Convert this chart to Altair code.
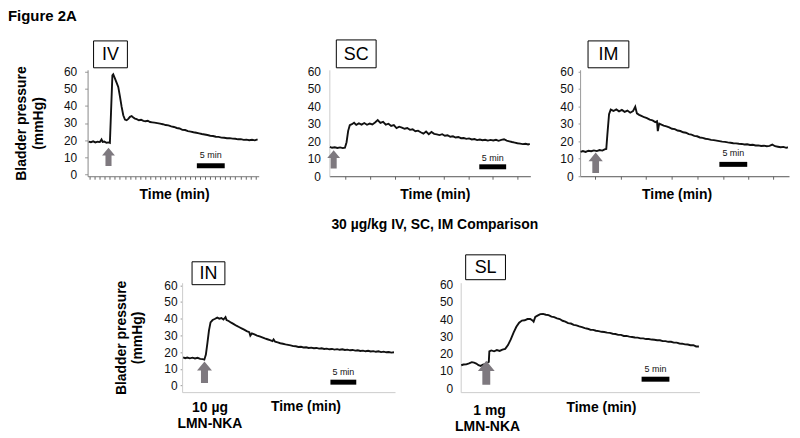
import altair as alt
import pandas as pd

FONT = "Liberation Sans"

# ---------------- data ----------------
# IV
iv_t = [0.2, 0.6, 1.0, 1.4, 1.8, 2.2, 2.5, 2.7, 3.0, 3.4, 3.8, 4.0, 4.2, 4.45, 4.6, 4.9, 5.2, 5.5, 5.8, 6.1,
        6.4, 6.7, 7.0, 7.3, 7.6, 7.9, 8.2, 8.5, 8.8, 9.2, 9.6, 10.0, 10.4, 10.8, 11.2, 11.6, 12.0, 12.5, 13.0,
        13.5, 14.0, 14.5, 15.0, 15.5, 16.0, 16.5, 17.0, 17.5, 18.0, 18.5, 19.0, 19.5, 20.0, 20.5, 21.0, 21.5,
        22.0, 22.5, 23.0, 23.5, 24.0, 24.5, 25.0, 25.5, 26.0, 26.5, 27.0, 27.5, 28.0, 28.5, 29.0, 29.5, 30.0, 30.5]
iv_p = [19.2, 18.8, 19.3, 18.7, 19.1, 18.9, 20.4, 19.0, 19.2, 18.5, 18.7, 18.4, 36.0, 57.8, 58.4, 56.0, 53.5, 51.0,
        45.5, 39.5, 34.5, 32.0, 31.6, 32.4, 33.6, 34.0, 33.2, 32.6, 32.2, 31.6, 31.9, 31.2, 31.0, 31.3, 30.6, 30.4,
        30.2, 29.9, 29.6, 29.3, 28.8, 28.6, 28.0, 27.7, 27.1, 26.8, 26.0, 25.9, 25.3, 25.0, 24.6, 24.3, 24.0, 23.6,
        23.3, 23.0, 22.6, 22.4, 22.0, 21.9, 21.5, 21.4, 21.1, 21.2, 20.9, 20.8, 20.5, 20.6, 20.2, 20.3, 20.0, 20.2,
        19.9, 20.5]

# SC
sc_t = [0.1, 0.5, 1.0, 1.5, 2.0, 2.5, 2.9, 3.2, 3.5, 3.8, 4.2, 4.6, 5.0, 5.5, 6.0, 6.5, 7.0, 7.5, 8.0, 8.5, 9.0,
        9.5, 10.0, 10.5, 11.0, 11.5, 12.0, 12.5, 13.0, 13.5, 14.0, 14.5, 15.0, 15.5, 16.0, 16.5, 17.0, 17.5, 18.0,
        18.5, 19.0, 19.5, 20.0, 20.5, 21.0, 21.5, 22.0, 22.5, 23.0, 23.5, 24.0, 24.5, 25.0, 25.5, 26.0, 26.5, 27.0,
        27.5, 28.0, 28.5, 29.0, 29.5, 30.0, 30.5, 31.0, 31.5, 32.0, 32.5, 33.0, 33.5, 34.0, 34.5, 35.0, 35.5, 36.0,
        36.5, 37.0, 37.3]
sc_p = [16.8, 16.3, 16.6, 16.2, 16.5, 16.1, 16.3, 19.5, 26.0, 29.2, 29.8, 30.6, 29.4, 30.3, 29.6, 30.5, 29.5, 30.2,
        29.7, 30.8, 32.2, 30.6, 31.2, 29.6, 30.1, 28.8, 29.3, 27.6, 28.4, 27.9, 27.2, 27.6, 26.6, 26.9, 25.8, 26.1,
        25.2, 24.4, 25.6, 24.1, 25.4, 24.3, 24.0, 23.6, 24.1, 23.2, 23.5, 22.6, 22.9, 22.2, 22.5, 21.8, 21.9, 21.4,
        21.7, 21.1, 21.3, 20.7, 21.0, 20.6, 20.9, 20.4, 20.8, 20.5, 20.9, 20.3, 20.8, 21.2, 20.4, 20.0, 19.6, 19.3,
        18.9, 18.7, 18.4, 18.6, 18.2, 18.5]

# IM
im_t = [0.1, 0.5, 1.0, 1.5, 2.0, 2.5, 3.0, 3.5, 4.0, 4.4, 4.7, 4.9, 5.2, 5.5, 6.0, 6.5, 7.0, 7.5, 8.0, 8.5, 9.0,
        9.5, 9.9, 10.2, 10.6, 11.0, 11.5, 12.0, 12.5, 13.0, 13.5, 13.8, 13.95, 14.2, 14.6, 15.0, 15.5, 16.0, 16.5,
        17.0, 17.5, 18.0, 18.5, 19.0, 19.5, 20.0, 20.5, 21.0, 21.5, 22.0, 22.5, 23.0, 23.5, 24.0, 24.5, 25.0, 25.5,
        26.0, 26.5, 27.0, 27.5, 28.0, 28.5, 29.0, 29.5, 30.0, 30.5, 31.0, 31.5, 32.0, 32.5, 33.0, 33.5, 34.0, 34.5,
        35.0, 35.5, 36.0, 36.5, 37.0, 37.3]
im_p = [14.0, 14.4, 13.9, 14.6, 14.3, 14.8, 14.4, 15.0, 14.7, 15.4, 15.6, 24.0, 35.5, 38.2, 37.4, 38.3, 37.2, 38.0,
        36.9, 37.6, 36.4, 37.3, 39.8, 36.0, 35.2, 34.6, 33.8, 33.3, 32.4, 32.0, 31.0, 31.5, 25.8, 30.2, 29.6, 29.0,
        28.6, 28.0, 27.2, 27.0, 26.2, 25.9, 25.2, 24.9, 24.1, 23.8, 23.1, 22.9, 22.2, 22.0, 21.5, 21.3, 20.8, 20.7,
        20.4, 20.1, 19.8, 19.7, 19.4, 19.2, 18.9, 18.8, 18.6, 18.5, 18.2, 18.3, 17.9, 18.0, 17.6, 17.7, 17.3, 17.5,
        17.2, 17.4, 18.1, 17.2, 16.9, 16.6, 16.8, 16.3, 16.6]

# IN
in_t = [0.2, 0.6, 1.0, 1.5, 2.0, 2.5, 3.0, 3.5, 4.0, 4.3, 4.6, 4.9, 5.2, 5.5, 5.9, 6.3, 6.8, 7.2, 7.6, 8.0, 8.4,
        8.6, 9.0, 9.5, 10.0, 10.5, 11.0, 11.5, 12.0, 12.5, 13.0, 13.2, 13.5, 14.0, 14.5, 15.0, 15.5, 16.0, 16.5,
        17.0, 17.5, 17.7, 18.0, 18.5, 19.0, 19.5, 20.0, 20.5, 21.0, 21.5, 22.0, 22.5, 23.0, 23.5, 24.0, 24.5, 25.0,
        25.5, 26.0, 26.5, 27.0, 27.5, 28.0, 28.5, 29.0, 29.5, 30.0, 30.5, 31.0, 31.5, 32.0, 32.5, 33.0, 33.5, 34.0,
        34.5, 35.0, 35.5, 36.0, 36.5, 37.0, 37.5, 38.0, 38.5, 39.0, 39.5, 40.0, 40.5, 41.0]
in_p = [16.9, 16.4, 16.8, 16.3, 16.7, 16.2, 16.6, 16.0, 15.8, 15.5, 18.5, 25.6, 33.0, 37.8, 39.2, 39.8, 40.6, 40.0,
        40.4, 39.5, 40.9, 39.2, 38.6, 37.6, 36.7, 35.8, 35.0, 34.2, 33.4, 32.6, 31.9, 29.9, 31.2, 30.6, 29.9, 29.4,
        28.8, 28.2, 27.7, 27.2, 26.6, 27.6, 26.2, 25.8, 25.3, 25.0, 24.6, 24.3, 24.0, 23.6, 23.5, 23.1, 23.2, 22.8,
        22.9, 22.5, 22.7, 22.3, 22.5, 22.1, 22.3, 21.9, 22.1, 21.7, 21.9, 21.5, 21.8, 21.4, 21.7, 21.3, 21.5, 21.1,
        21.3, 20.9, 21.1, 20.7, 20.9, 20.5, 20.8, 20.4, 20.6, 20.2, 20.5, 20.0, 20.3, 19.9, 20.1, 19.7, 19.9]

# SL
sl_t = [0.1, 0.5, 1.0, 1.5, 2.0, 2.4, 2.8, 3.2, 3.6, 4.0, 4.4, 4.8, 5.05, 5.15, 5.5, 6.0, 6.5, 7.0, 7.5, 8.0, 8.5,
        9.0, 9.5, 10.0, 10.5, 11.0, 11.5, 12.0, 12.5, 12.9, 13.1, 13.4, 13.8, 14.3, 14.8, 15.3, 15.8, 16.3, 16.8,
        17.3, 17.8, 18.3, 18.8, 19.3, 19.8, 20.3, 20.8, 21.3, 21.8, 22.3, 22.8, 23.3, 23.8, 24.3, 24.8, 25.3, 25.8,
        26.3, 26.8, 27.3, 27.8, 28.3, 28.8, 29.3, 29.8, 30.3, 30.8, 31.3, 31.8, 32.3, 32.8, 33.3, 33.8, 34.3, 34.8,
        35.3, 35.8, 36.3, 36.8, 37.3, 37.8, 38.3, 38.8, 39.3, 39.8, 40.3, 40.8, 41.3, 41.8, 42.3, 42.8]
sl_p = [13.3, 13.7, 13.8, 14.4, 15.1, 14.8, 14.3, 13.3, 12.9, 13.6, 14.0, 14.9, 15.3, 21.3, 21.9, 21.4, 22.1, 21.6,
        22.4, 22.8, 25.0, 28.3, 32.2, 35.6, 38.0, 39.2, 39.4, 40.1, 40.2, 39.3, 38.6, 41.3, 42.1, 43.0, 43.1, 42.6,
        42.4, 41.5, 41.2, 40.5, 40.1, 39.1, 38.6, 37.7, 37.5, 36.7, 36.4, 35.8, 35.4, 34.8, 34.5, 33.9, 33.8, 33.3,
        33.1, 32.7, 32.6, 32.2, 32.1, 31.6, 31.4, 30.9, 30.9, 30.3, 30.3, 29.9, 29.7, 29.4, 29.3, 28.9, 28.9, 28.5,
        28.5, 28.2, 28.1, 27.8, 27.8, 27.3, 27.3, 26.9, 26.9, 26.4, 26.4, 25.9, 25.8, 25.4, 25.3, 24.9, 24.9, 24.2,
        24.2]

# x-axis tick positions (minutes)
iv_ticks = [0.4, 1.3, 2.2, 3.1, 4.0, 4.9, 5.8, 6.7, 7.6, 8.5, 9.4, 10.3, 11.2, 12.1, 13.0, 13.9, 14.8, 15.7,
            16.6, 17.5, 18.4, 19.3, 20.2, 21.1, 22.0, 22.9, 23.8, 24.7, 25.6, 26.5, 27.4, 28.3, 29.2, 30.1]
sc_ticks = [3.0, 7.6, 12.2, 16.7, 21.3, 25.9, 30.4, 35.0]
im_ticks = [2.7, 7.3, 11.8, 16.4, 21.0, 25.7, 30.1, 34.7]
y_ticks = [0, 10, 20, 30, 40, 50, 60]

ARROW = "M0,-1L0.7,-0.15L0.33,-0.15L0.33,1L-0.33,1L-0.33,-0.15L-0.7,-0.15Z"
ONE = pd.DataFrame({"a": [0]})


def panel(t, p, w, h, xmax, ydom, xticks, xdom_col, ydom_col, ytick, lab_pad,
          arrow, arrow_size, bar, box, label, title_x, title_y,
          ytitle=None, ytitle_x=-43, ytitle_lh=17, texts=()):
    xs = alt.Scale(domain=[0, xmax], nice=False, zero=False)
    ys = alt.Scale(domain=ydom, nice=False, zero=False)
    xa = dict(labels=False, grid=False, domainColor=xdom_col,
              titleFont=FONT, titleFontSize=14, titleFontWeight="bold", titleColor="#000",
              titleX=title_x, titleY=title_y, titleAlign="center", titleBaseline="top")
    if xticks:
        xa.update(values=xticks, ticks=True, tickSize=3, tickColor="#666", tickWidth=1)
    else:
        xa.update(ticks=False)
    ya = dict(values=y_ticks, grid=False, domainColor=ydom_col, labelFont=FONT, labelFontSize=12,
              labelColor="#111", labelPadding=lab_pad, labelOverlap=False)
    if ytick > 0:
        ya.update(ticks=True, tickSize=ytick, tickColor="#999")
    else:
        ya.update(ticks=False)
    if ytitle:
        ya.update(titleFont=FONT, titleFontSize=14, titleFontWeight="bold", titleColor="#000",
                  titleX=ytitle_x, titleLineHeight=ytitle_lh)
    xaxis = alt.Axis(**xa)
    yaxis = alt.Axis(**ya)

    def X(f):
        return alt.X(f, scale=xs, axis=xaxis, title="Time (min)")

    def Y(f):
        return alt.Y(f, scale=ys, axis=yaxis, title=ytitle)

    df = pd.DataFrame({"t": t, "p": p})
    line = alt.Chart(df).mark_line(color="#111", strokeWidth=1.9).encode(x=X("t:Q"), y=Y("p:Q"))
    arr = alt.Chart(pd.DataFrame({"t": [arrow[0]], "p": [arrow[1]]})).mark_point(
        shape=ARROW, filled=True, color="#7e797f", opacity=1, size=arrow_size, strokeWidth=0
    ).encode(x=X("t:Q"), y=Y("p:Q"))
    bdf = pd.DataFrame({"t": [bar[0]], "t2": [bar[0] + 5], "p": [bar[1]], "tm": [bar[0] + 2.5], "pt": [bar[2]]})
    rule = alt.Chart(bdf).mark_rule(color="#000", strokeWidth=5).encode(
        x=X("t:Q"), x2="t2:Q", y=Y("p:Q"))
    btxt = alt.Chart(bdf).mark_text(text="5 min", font=FONT, fontSize=9, color="#111",
                                    baseline="middle", align="center").encode(x=X("tm:Q"), y=Y("pt:Q"))
    rect = alt.Chart(ONE).mark_rect(fill="#fff", stroke="#000", strokeWidth=1).encode(
        x=alt.value(box[0]), x2=alt.value(box[1]), y=alt.value(box[2]), y2=alt.value(box[3]))
    ltxt = alt.Chart(ONE).mark_text(text=label, font=FONT, fontSize=18, color="#000",
                                    align="center", baseline="middle").encode(
        x=alt.value((box[0] + box[1]) / 2), y=alt.value((box[2] + box[3]) / 2 + 1))
    layers = [line, arr, rule, btxt, rect, ltxt]
    for (s, x, y, size, align, baseline) in texts:
        layers.append(alt.Chart(ONE).mark_text(text=s, font=FONT, fontSize=size, fontWeight="bold",
                                               color="#000", align=align, baseline=baseline).encode(
            x=alt.value(x), y=alt.value(y)))
    return alt.layer(*layers).properties(width=w, height=h)


def spacer(w, h):
    return alt.Chart(ONE).mark_text(text=" ").encode(x=alt.value(0), y=alt.value(0)).properties(width=w, height=h)


iv = panel(iv_t, iv_p, 172, 107, 30.7, [-1, 61], iv_ticks, "#777", "#888", 3, 8,
           (3.75, 10.3), 340, (19.6, 5.1, 11.2), (6, 40, -29, -2), "IV", 87, 11,
           ytitle=["Bladder pressure", "(mmHg)"], ytitle_x=-59, ytitle_lh=17,
           texts=[("Figure 2A", -80, -61, 15, "left", "top")])
sc = panel(sc_t, sc_p, 202, 107, 37.4, [0, 61], sc_ticks, "#555", "#ccc", 0, 9,
           (0.8, 9.7), 340, (27.9, 5.4, 10.7), (7, 47, -30, -2), "SC", 106, 11,
           texts=[("30 µg/kg IV, SC, IM Comparison", 106, 156, 14, "center", "middle")])
im = panel(im_t, im_p, 210, 107, 37.5, [0, 61], im_ticks, "#555", "#999", 2, 5,
           (2.8, 7.7), 420, (25.0, 6.8, 13.1), (8, 49, -29, -2), "IM", 97, 11)
inn = panel(in_t, in_p, 214, 110, 41.2, [-3.9, 61.5], [], "#ccc", "#ccc", 2, 3,
            (4.33, 8.0), 460, (28.7, 2.05, 8.0), (10, 43, -21, 2), "IN", 124, 7,
            ytitle=["Bladder pressure", "(mmHg)"], ytitle_x=-54, ytitle_lh=16,
            texts=[("10 µg", 28, 126, 14, "center", "middle"),
                   ("LMN-NKA", 28, 142, 14, "center", "middle")])
sl = panel(sl_t, sl_p, 240, 110, 42.9, [-2.3, 61.2], [], "#ccc", "#ccc", 0, 8,
           (4.6, 8.9), 580, (32.5, 5.2, 11.0), (5, 45, -28, -3), "SL", 141, 8,
           texts=[("1 mg", 29, 129, 14, "center", "middle"),
                  ("LMN-NKA", 27, 145, 14, "center", "middle")])

top = alt.hconcat(iv, spacer(71, 107), sc, spacer(50, 107), im, spacing=0, bounds="flush")
bottom = alt.hconcat(spacer(95, 110), inn, spacer(66, 110), sl, spacing=0, bounds="flush")
# nested concat groups count as zero height under "flush", so the gap includes the top row height
chart = alt.vconcat(top, bottom, spacing=214, bounds="flush").properties(
    padding=0, background="#ffffff"
).configure_view(stroke=None)

chart.save("out.html", embed_options={"renderer": "svg", "actions": False})
